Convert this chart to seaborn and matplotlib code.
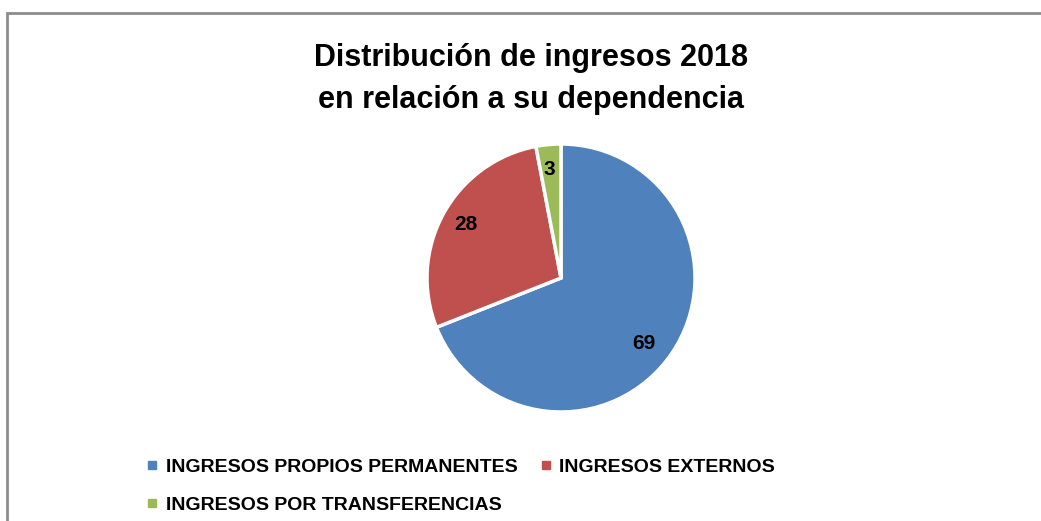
import matplotlib
matplotlib.use("Agg")
import matplotlib.pyplot as plt
import matplotlib.patches as mpatches
from matplotlib.lines import Line2D
import seaborn as sns

# datos
categorias = ["INGRESOS PROPIOS PERMANENTES", "INGRESOS EXTERNOS", "INGRESOS POR TRANSFERENCIAS"]
valores = [69, 28, 3]
colores = ["#4F81BD", "#C0504D", "#9BBB59"]
titulo = "Distribución de ingresos 2018\nen relación a su dependencia"

sns.set_theme(style="white")
plt.rcParams["font.family"] = ["Liberation Sans Narrow", "Liberation Sans", "DejaVu Sans"]
plt.rcParams["text.color"] = "black"

W, H = 1041, 521
fig = plt.figure(figsize=(W / 100, H / 100), dpi=100)

# marco gris del grafico
fig.patches.append(mpatches.Rectangle((7 / W, -0.1), 1.2, 1 - 13 / H + 0.1,
                                      transform=fig.transFigure, fill=False,
                                      edgecolor="#8c8c8c", linewidth=2))

# pastel
cx, cy, r = 561, 278, 134
ax = fig.add_axes([(cx - r) / W, (H - cy - r) / H, 2 * r / W, 2 * r / H])
wedges, texts = ax.pie(valores, colors=colores, startangle=90, counterclock=False,
                       wedgeprops=dict(edgecolor="white", linewidth=2.5))
ax.set_xlim(-1, 1)
ax.set_ylim(-1, 1)
ax.set_aspect("equal")

# etiquetas de valores
pos = [(0.62, -0.49), (-0.71, 0.4), (-0.09, 0.81)]
for v, (x, y) in zip(valores, pos):
    ax.text(x, y, str(v), ha="center", va="center", fontsize=15, fontweight="bold", color="black")

fig.text(531 / W, 1 - 79 / H, titulo, ha="center", va="center", fontsize=22,
         fontweight="bold", linespacing=1.55, color="black")

# leyenda (orden por filas)
handles = [Line2D([0], [0], marker="s", linestyle="", markersize=5.5,
                  markerfacecolor=c, markeredgecolor=c) for c in colores]
orden = [0, 2, 1]
fig.legend([handles[i] for i in orden], [categorias[i] for i in orden],
           loc="upper left", bbox_to_anchor=(127 / W, 1 - 441 / H),
           ncol=2, frameon=False, prop=dict(size=14, weight="bold"),
           handletextpad=0.3, columnspacing=1.05, labelspacing=1.05, handlelength=0.8,
           labelcolor="black")

fig.savefig("out.png", dpi=100, facecolor="white")
